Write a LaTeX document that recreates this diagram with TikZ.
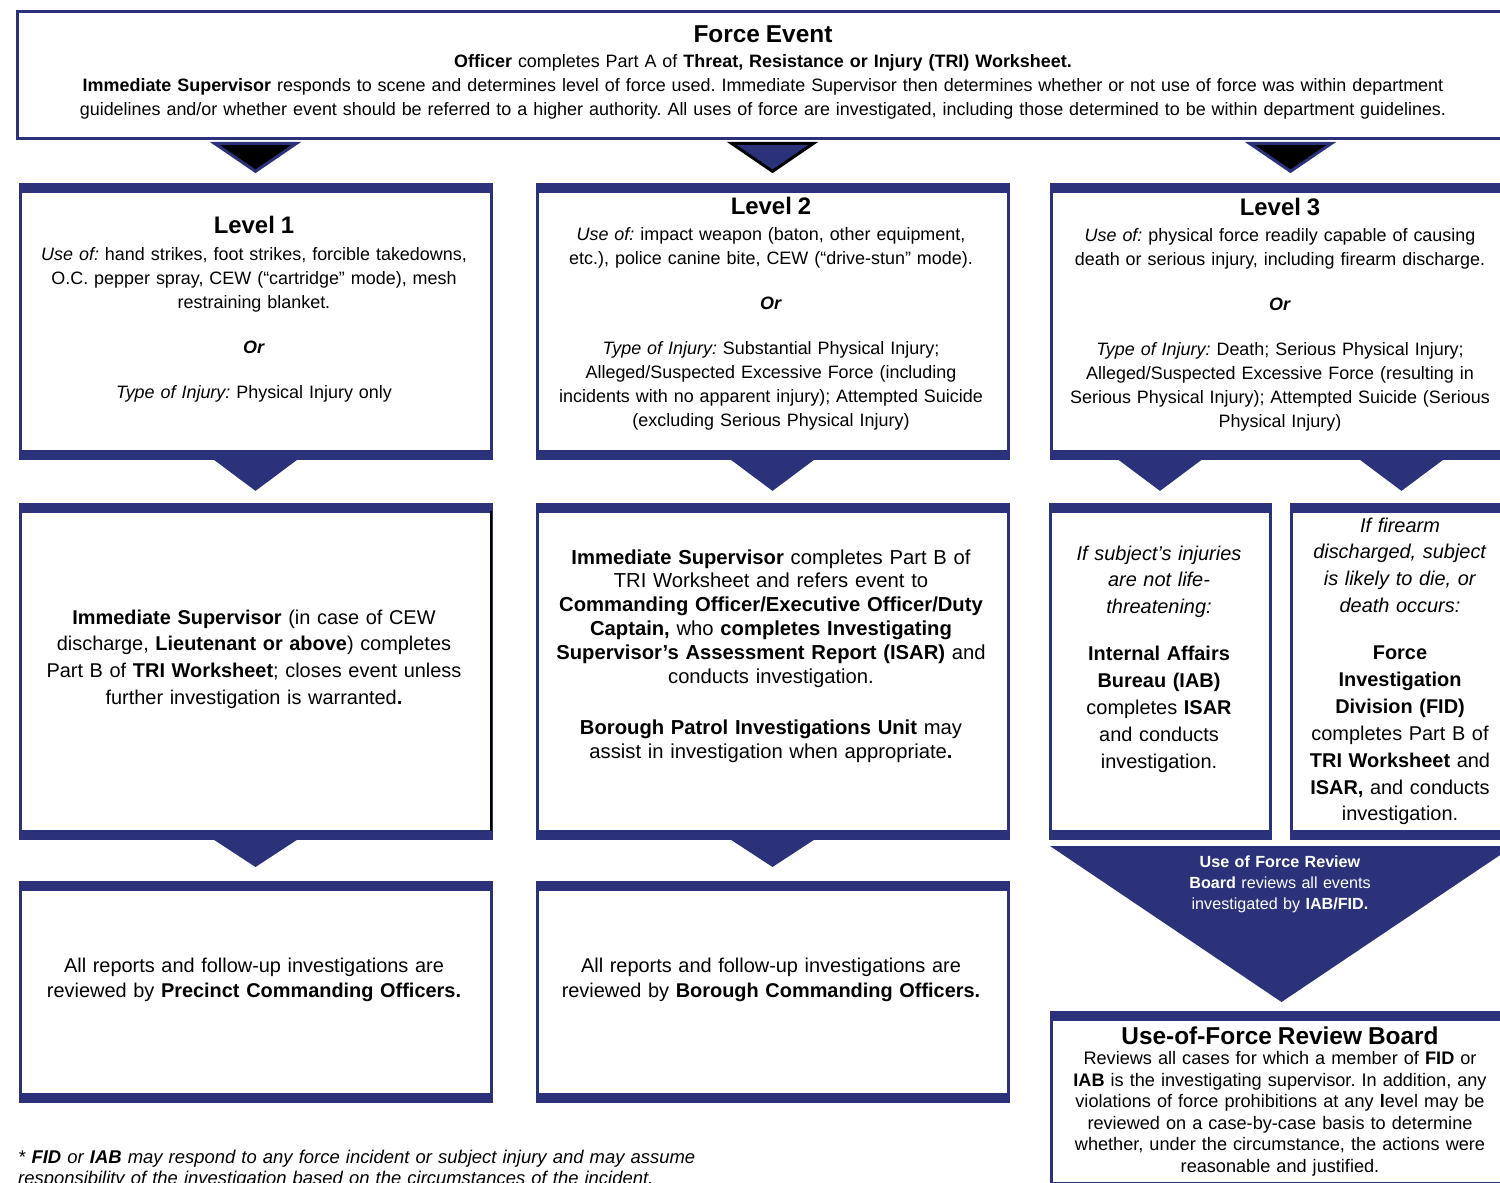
\documentclass[tikz,border=0pt]{standalone}
\usepackage{fontspec}
\setmainfont{Liberation Sans}
\usepackage{xcolor}
\usetikzlibrary{calc}
\definecolor{navy}{RGB}{44,50,122}
\frenchspacing
\newcommand\sizeA{\fontsize{18}{24}\selectfont}
\newcommand\sizeB{\fontsize{20}{27}\selectfont}
\newcommand\sizeC{\fontsize{20.3}{24}\selectfont}
\newcommand\sizeD{\fontsize{20}{26}\selectfont}
\newcommand\sizeE{\fontsize{16.2}{21.5}\selectfont}
\newcommand\sizeF{\fontsize{18.2}{21.5}\selectfont}

\begin{document}
\begin{tikzpicture}[
  x=1bp,y=-1bp,
  style1/.style 2 args={
    draw=navy, line width=3bp, inner sep=0pt, anchor=north west,
    minimum width=#1, minimum height=#2,
    path picture={
      \fill[navy] (path picture bounding box.north west)
        rectangle ([yshift=-8.5bp]path picture bounding box.north east);
      \fill[navy] (path picture bounding box.south west)
        rectangle ([yshift=8.5bp]path picture bounding box.south east);
    },
    },
  style2/.style={
    text width=#1, align=center, anchor=base, inner sep=0pt,
    },
  style3/.style={fill=navy},
  style4/.style={draw=navy, fill=black, line width=3bp},
  style5/.style={draw=black, fill=navy, line width=3bp},
  ]
  \useasboundingbox (0,0) rectangle (1500,1182);
  \clip (0,0) rectangle (1500,1182);

  % top box
  \node[draw=navy,line width=3bp,inner sep=0pt,anchor=north west,
    minimum width=1495bp,minimum height=127bp]
    (event) at (15.5,9.5) {};
  \node[style2=1470bp,font=\sizeA] (eventtxt) at (763,42)
  {{\fontsize{24.5}{24}\selectfont\bfseries Force Event}\\[2pt]
    \textbf{Officer} completes Part A of \textbf{Threat, Resistance or Injury (TRI) Worksheet.}\\
    \textbf{Immediate Supervisor} responds to scene and determines level of force used. Immediate Supervisor then determines whether or not use of force was within department\\
    guidelines and/or whether event should be referred to a higher authority. All uses of force are investigated, including those determined to be within department guidelines.};

  % boxes
  \node[style1={471bp}{274bp}] (1lvl) at (18.5,182.5) {};
  \node[style1={471bp}{274bp}] (2lvl) at (535.5,182.5) {};
  \node[style1={461bp}{274bp}] (3lvl) at (1049.5,182.5) {};
  \node[style1={471bp}{334bp}] (1sup) at (18.5,502.5) {};
  \node[style1={471bp}{334bp}] (2sup) at (535.5,502.5) {};
  \node[style1={220bp}{334bp}] (3iab) at (1048.5,502.5) {};
  \node[style1={221bp}{334bp}] (3fid) at (1289.5,502.5) {};
  \node[style1={471bp}{219bp}] (1rev) at (18.5,880.5) {};
  \node[style1={471bp}{219bp}] (2rev) at (535.5,880.5) {};
  \node[style1={461bp}{178bp}] (3board) at (1049.5,1010.5) {};
  \draw[black,line width=2.5bp]
    ([xshift=-1.5bp,yshift=-8.5bp]1sup.north east) -- ([xshift=-1.5bp,yshift=8.5bp]1sup.south east);

  % arrows from force event
  \coordinate (1tip) at ($(event.south -| 1lvl.north)!0.74!(1lvl.north)$);
  \coordinate (2tip) at ($(event.south -| 2lvl.north)!0.74!(2lvl.north)$);
  \coordinate (3tip) at ($($(event.south -| 3lvl.north)!0.74!(3lvl.north)$)+(9,0)$);
  \draw[style4,line join=miter]
    ($(1tip)+(-41,-28)$) -- ($(1tip)+(41,-28)$) -- (1tip) -- cycle;
  \draw[style5,line join=miter]
    ($(2tip)+(-41,-28)$) -- ($(2tip)+(41,-28)$) -- (2tip) -- cycle;
  \draw[style4,line join=miter]
    ($(3tip)+(-41,-28)$) -- ($(3tip)+(41,-28)$) -- (3tip) -- cycle;

  % arrows between boxes
  \fill[style3]
    ([xshift=-42bp]1lvl.south) -- ([xshift=42bp]1lvl.south) -- ($(1lvl.south)!0.73!(1sup.north)$) -- cycle;
  \fill[style3]
    ([xshift=-42bp]2lvl.south) -- ([xshift=42bp]2lvl.south) -- ($(2lvl.south)!0.73!(2sup.north)$) -- cycle;
  \fill[style3]
    ($(3lvl.south -| 3iab.north)+(-42,0)$) -- ($(3lvl.south -| 3iab.north)+(42,0)$)
    -- ($(3lvl.south -| 3iab.north)!0.73!(3iab.north)$) -- cycle;
  \fill[style3]
    ($(3lvl.south -| 3fid.north)+(-42,0)$) -- ($(3lvl.south -| 3fid.north)+(42,0)$)
    -- ($(3lvl.south -| 3fid.north)!0.73!(3fid.north)$) -- cycle;
  \fill[style3]
    ([xshift=-42bp]1sup.south) -- ([xshift=42bp]1sup.south) -- ($(1sup.south)!0.67!(1rev.north)$) -- cycle;
  \fill[style3]
    ([xshift=-42bp]2sup.south) -- ([xshift=42bp]2sup.south) -- ($(2sup.south)!0.67!(2rev.north)$) -- cycle;
  \fill[style3]
    ($(3iab.south west)+(1.5,6.5)$) -- ($(3fid.south east)+(0,6.5)$) -- ($(3board.north)+(0,-8.5)$) -- cycle;

  % level texts
  \node[style2=467bp,font=\sizeA] (1lvltxt) at (254,233)
  {{\fontsize{24}{24}\selectfont\bfseries Level 1}\\[4pt]
    \textit{Use of:} hand strikes, foot strikes, forcible takedowns,\\
    O.C. pepper spray, CEW (“cartridge” mode), mesh\\
    restraining blanket.\\[21pt]
    \textbf{\textit{Or}}\\[21pt]
    \textit{Type of Injury:} Physical Injury only};
  \node[style2=467bp,font=\sizeA] (2lvltxt) at (771,214)
  {{\fontsize{24}{24}\selectfont\bfseries Level 2}\\[3pt]
    \textit{Use of:} impact weapon (baton, other equipment,\\
    etc.), police canine bite, CEW (“drive-stun” mode).\\[21pt]
    \textbf{\textit{Or}}\\[21pt]
    \textit{Type of Injury:} Substantial Physical Injury;\\
    Alleged/Suspected Excessive Force (including\\
    incidents with no apparent injury); Attempted Suicide\\
    (excluding Serious Physical Injury)};
  \node[style2=460bp,font=\sizeA] (3lvltxt) at (1280,215)
  {{\fontsize{24}{24}\selectfont\bfseries Level 3}\\[3pt]
    \textit{Use of:} physical force readily capable of causing\\
    death or serious injury, including firearm discharge.\\[21pt]
    \textbf{\textit{Or}}\\[21pt]
    \textit{Type of Injury:} Death; Serious Physical Injury;\\
    Alleged/Suspected Excessive Force (resulting in\\
    Serious Physical Injury); Attempted Suicide (Serious\\
    Physical Injury)};

  % investigation texts
  \node[style2=467bp,font=\sizeB] (1suptxt) at (254,624)
  {\textbf{Immediate Supervisor} (in case of CEW\\
    discharge, \textbf{Lieutenant or above}) completes\\
    Part B of \textbf{TRI Worksheet}; closes event unless\\
    further investigation is warranted\textbf{.}};
  \node[style2=467bp,font=\sizeC] (2suptxt) at (771,564)
  {\textbf{Immediate Supervisor} completes Part B of\\
    TRI Worksheet and refers event to\\
    \textbf{Commanding Officer/Executive Officer/Duty}\\
    \textbf{Captain,} who \textbf{completes Investigating}\\
    \textbf{Supervisor’s Assessment Report (ISAR)} and\\
    conducts investigation.\\[27pt]
    \textbf{Borough Patrol Investigations Unit} may\\
    assist in investigation when appropriate\textbf{.}};
  \node[style2=216bp,font=\sizeB] (3iabtxt) at (1159,560)
  {\textit{If subject’s injuries}\\
    \textit{are not life-}\\
    \textit{threatening:}\\[20pt]
    \textbf{Internal Affairs}\\
    \textbf{Bureau (IAB)}\\
    completes \textbf{ISAR}\\
    and conducts\\
    investigation.};
  \node[style2=216bp,font=\sizeB] (3fidtxt) at (1400,532)
  {\textit{If firearm}\\
    \textit{discharged, subject}\\
    \textit{is likely to die, or}\\
    \textit{death occurs:}\\[20pt]
    \textbf{Force}\\
    \textbf{Investigation}\\
    \textbf{Division (FID)}\\
    completes Part B of\\
    \textbf{TRI Worksheet} and\\
    \textbf{ISAR,} and conducts\\
    investigation.};

  % review texts
  \node[style2=467bp,font=\sizeD] (1revtxt) at (254,972)
  {All reports and follow-up investigations are\\
    reviewed by \textbf{Precinct Commanding Officers.}};
  \node[style2=467bp,font=\sizeD] (2revtxt) at (771,972)
  {All reports and follow-up investigations are\\
    reviewed by \textbf{Borough Commanding Officers.}};
  \node[style2=260bp,font=\sizeE,text=white] (ufrbtxt) at (1280,867)
  {\textbf{Use of Force Review}\\
    \textbf{Board} reviews all events\\
    investigated by \textbf{IAB/FID.}};
  \node[style2=460bp,font=\sizeF] (3boardtxt) at (1280,1044)
  {{\fontsize{24.5}{24}\selectfont\bfseries Use-of-Force Review Board}\\[-0.5pt]
    Reviews all cases for which a member of \textbf{FID} or\\
    \textbf{IAB} is the investigating supervisor. In addition, any\\
    violations of force prohibitions at any \textbf{l}evel may be\\
    reviewed on a case-by-case basis to determine\\
    whether, under the circumstance, the actions were\\
    reasonable and justified.};

  % footnote
  \node[text width=800bp,align=left,anchor=base west,inner sep=0pt,
    font=\fontsize{18.5}{22}\selectfont\itshape] (note) at (18,1163)
  {* \textbf{FID} or \textbf{IAB} may respond to any force incident or subject injury and may assume\\
    responsibility of the investigation based on the circumstances of the incident.};
\end{tikzpicture}
\end{document}
